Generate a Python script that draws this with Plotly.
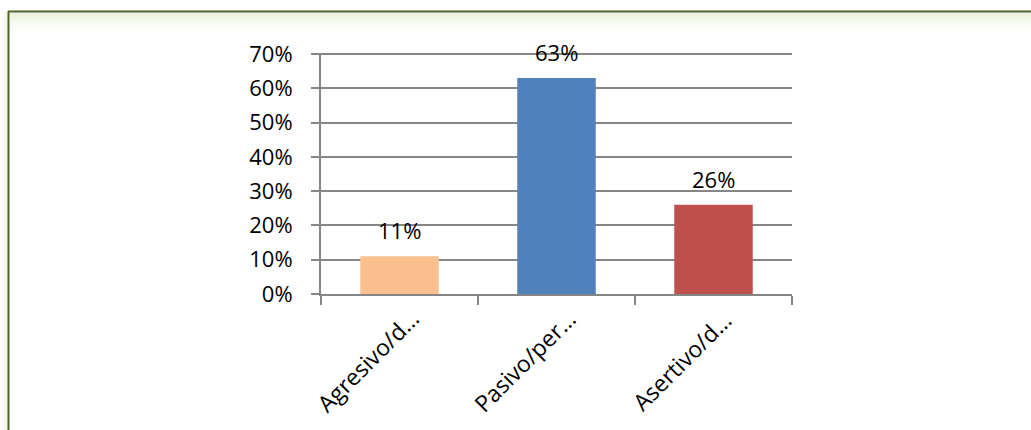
import plotly.graph_objects as go

# Response style shares
categories = ["Agresivo/d…", "Pasivo/per…", "Asertivo/d…"]
shares = [0.11, 0.63, 0.26]
bar_colors = ["#FAC090", "#4F81BD", "#C0504D"]
y_ticks = [0, 0.1, 0.2, 0.3, 0.4, 0.5, 0.6, 0.7]
y_tick_labels = ["0%", "10%", "20%", "30%", "40%", "50%", "60%", "70%"]

W, H = 1031, 430
L, R, T, B = 321, 239, 53, 136
plot_w = W - L - R
plot_h = H - T - B
Y_MAX = 0.703


def px_x(px):
    return (px - L) / plot_w


def px_y(py):
    return (H - B - py) / plot_h


FONT = dict(family="Open Sans, Liberation Sans, sans-serif", size=22, color="#000000")
XFONT = dict(FONT, size=23)

fig = go.Figure(
    go.Bar(
        x=categories,
        y=shares,
        marker=dict(color=bar_colors, line=dict(width=0)),
        width=0.5,
        hoverinfo="skip",
    )
)

# value labels above the bars
for cat, val in zip(categories, shares):
    fig.add_annotation(
        x=cat, y=val, text=f"{round(val * 100)}%", showarrow=False,
        yanchor="middle", yshift=26, font=FONT,
    )

# slanted category labels under the axis
for cat in categories:
    fig.add_annotation(
        x=cat, y=0, yref="y", text=cat, showarrow=False, textangle=-45,
        xanchor="center", yanchor="middle", xshift=-32, yshift=-67,
        font=XFONT,
    )

shapes = []
# soft green haze under the top frame line
haze = ["#EBF1DD", "#EFF4E5", "#F3F7EC", "#F7FAF2", "#FAFCF7", "#FDFEFB"]
for i, c in enumerate(haze):
    shapes.append(dict(
        type="rect", xref="paper", yref="paper", layer="below",
        x0=px_x(10), x1=px_x(W), y0=px_y(13 + i * 3), y1=px_y(16 + i * 3),
        fillcolor=c, line=dict(width=0),
    ))
# faint shadow on the left of the frame
shapes.append(dict(
    type="rect", xref="paper", yref="paper", layer="below",
    x0=px_x(4), x1=px_x(8), y0=px_y(H), y1=px_y(12),
    fillcolor="#F3F6EC", line=dict(width=0),
))
# frame lines
shapes.append(dict(
    type="line", xref="paper", yref="paper",
    x0=px_x(8), x1=px_x(W + 2), y0=px_y(11.5), y1=px_y(11.5),
    line=dict(color="#4F6228", width=2),
))
shapes.append(dict(
    type="line", xref="paper", yref="paper",
    x0=px_x(8.5), x1=px_x(8.5), y0=px_y(11), y1=px_y(H + 2),
    line=dict(color="#4F6228", width=2),
))

fig.update_layout(
    width=W, height=H,
    margin=dict(l=L, r=R, t=T, b=B, autoexpand=False),
    paper_bgcolor="#FFFFFF", plot_bgcolor="#FFFFFF",
    showlegend=False,
    bargap=0.5,
    font=FONT,
    shapes=shapes,
    xaxis=dict(
        type="category",
        range=[-0.5, len(categories) - 0.5],
        showgrid=False,
        showline=True, linecolor="#868686", linewidth=2,
        ticks="outside", ticklen=9, tickwidth=2, tickcolor="#868686",
        tickson="boundaries",
        showticklabels=False,
        fixedrange=True,
    ),
    yaxis=dict(
        range=[0, Y_MAX],
        tickvals=y_ticks, ticktext=y_tick_labels,
        showgrid=True, gridcolor="#868686", gridwidth=1.6,
        showline=True, linecolor="#868686", linewidth=2,
        ticks="outside", ticklen=8, tickwidth=2, tickcolor="#868686",
        ticklabelstandoff=14,
        tickfont=FONT,
        zeroline=False,
        fixedrange=True,
    ),
)

fig.write_html("out.html", config=dict(displayModeBar=False))
